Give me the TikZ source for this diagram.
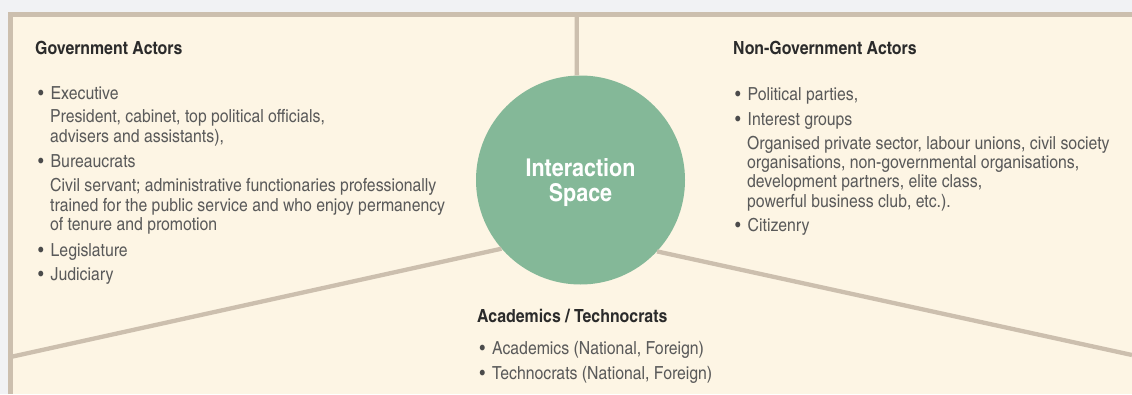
\documentclass[tikz,border=0pt]{standalone}
\usepackage{fontspec}
\setmainfont{texgyreheroscn}[Extension=.otf, UprightFont=*-regular, BoldFont=*-bold, FakeStretch=1.07]
\usepackage{tikz}
\usetikzlibrary{positioning, calc}

\definecolor{pagegray}{RGB}{241, 242, 244}
\definecolor{panelcream}{RGB}{253, 245, 228}
\definecolor{rulertan}{RGB}{204, 191, 174}
\definecolor{spacegreen}{RGB}{132, 184, 152}
\definecolor{headgray}{RGB}{43, 43, 43}
\definecolor{bodygray}{RGB}{90, 90, 90}

\newcommand{\itm}{\makebox[12.5pt][l]{\textcolor{headgray!85}{\textbullet}}}
\newcommand{\sub}{\hspace*{12pt}}

\begin{document}
\begin{tikzpicture}[x=1pt, y=-1pt,
  heading/.style={anchor=base west, inner sep=0pt, font=\bfseries\fontsize{18.1}{19.5}\selectfont, text=headgray},
  itemlist/.style={anchor=base west, inner sep=0pt, align=left, font=\fontsize{18}{19.4}\selectfont, text=bodygray},
  divider/.style={draw=rulertan, line width=4.3pt}
]
  \useasboundingbox (0,0) rectangle (1132,394);
  \fill[pagegray] (0,0) rectangle (1132,394);
  \fill[panelcream] (10.4,14.5) rectangle (1132,394);
  \draw[divider] (10.4,394) -- (10.4,14.5) -- (1132,14.5);

  \node[circle, fill=spacegreen, minimum size=209pt, inner sep=0pt,
        label={[name=spacetext, align=center, text=white, yshift=-2.5pt,
                font=\bfseries\fontsize{24.5}{25}\selectfont]center:Interaction\\Space}] (space) at (580.5,180) {};

  \coordinate (topend) at (576.7,14.5);
  \coordinate (leftend) at (10.4,357);
  \coordinate (rightend) at (1132,355);
  \draw[divider] (topend) -- (space.92);
  \draw[divider] (leftend) -- (space.221);
  \draw[divider] (rightend) -- (space.317);

  % lists are placed by the baseline of their last line
  \node[heading] (govhead) at (35,54) {Government Actors};
  \node[itemlist] (govlist) at (38,280) {%
    \itm Executive\\[4.4pt]
    \sub President, cabinet, top political officials,\\
    \sub advisers and assistants),\\[5.6pt]
    \itm Bureaucrats\\[5.3pt]
    \sub Civil servant; administrative functionaries professionally\\
    \sub trained for the public service and who enjoy permanency\\
    \sub of tenure and promotion\\[6.6pt]
    \itm Legislature\\[3.9pt]
    \itm Judiciary};

  \node[heading] (ngohead) at (733,54) {Non-Government Actors};
  \node[itemlist] (ngolist) at (735,231.7) {%
    \itm Political parties,\\[5.6pt]
    \itm Interest groups\\[3.9pt]
    \sub Organised private sector, labour unions, civil society\\
    \sub organisations, non-governmental organisations,\\
    \sub development partners, elite class,\\
    \sub powerful business club, etc.).\\[5pt]
    \itm Citizenry};

  \node[heading] (acahead) at (477,322.3) {Academics / Technocrats};
  \node[itemlist] (acalist) at (479.5,379) {%
    \itm Academics (National, Foreign)\\[5.6pt]
    \itm Technocrats (National, Foreign)};
\end{tikzpicture}
\end{document}
